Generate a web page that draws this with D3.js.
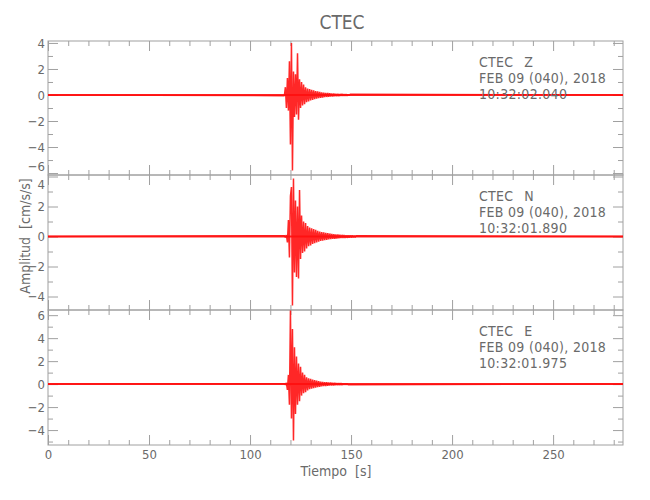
<!DOCTYPE html>
<html><head><meta charset="utf-8">
<script src="https://cdn.jsdelivr.net/npm/d3@7"></script>
<style>
body{margin:0;background:#fff;}
text{font-family:"DejaVu Sans Condensed","Liberation Sans Narrow",sans-serif;fill:#6a6a6a;}
</style></head>
<body><svg id="c" width="650" height="500"></svg>
<script>
// ---- data ----
const title = "CTEC";
const xLabel = "Tiempo  [s]";
const yLabel = "Amplitud  [cm/s/s]";
const xDomain = [0, 284.6];
const xMajorTicks = [0, 50, 100, 150, 200, 250];
const channels = ["Z", "N", "E"];
const station = "CTEC";
const dateLabel = "FEB 09 (040), 2018";
const startTimes = ["10:32:02.040", "10:32:01.890", "10:32:01.975"];
const yDomains = [[-6.15, 4.15], [-4.9, 4.1], [-5.3, 6.45]];
const yMajorTicks = [[-6, -4, -2, 0, 2, 4], [-4, -2, 0, 2, 4], [-4, -2, 0, 2, 4, 6]];
const burstStart = 117.0;   // s, first sample of the digitised burst
const sampleStep = 0.5;     // s
const zValues = [-0.05, 0.6, -1.0, 1.3, -1.2, 2.6, -3.8, 4.0, -5.8, 1.8, -1.7, 1.6, -1.5, 3.2, -1.9, 1.2,
  -1.0, 1.0, -0.8, 0.8, -0.7, 0.6, -0.55, 0.5, -0.5, 0.45, -0.42, 0.4, -0.38, 0.35, -0.32, 0.3,
  -0.28, 0.27, -0.25, 0.24, -0.22, 0.2, -0.2, 0.18, -0.17, 0.16, -0.15, 0.15, -0.14, 0.13, -0.12,
  0.12, -0.11, 0.11, -0.1, 0.1, -0.1, 0.09, -0.09, 0.08, -0.08, 0.08, -0.07, 0.07, -0.06, 0.06,
  -0.06, 0.05, -0.05, 0.05];
const nValues = [0.05, -0.06, 0.1, -0.4, 1.1, -1.4, 2.7, 3.3, -4.6, 3.87, -2.4, 2.4, -2.7, 2.0, -2.8, 3.1,
  -1.5, 1.4, -1.1, 1.0, -1.0, 0.9, -0.8, 0.7, -0.65, 0.6, -0.6, 0.55, -0.5, 0.5, -0.45, 0.45, -0.4,
  0.38, -0.35, 0.33, -0.3, 0.3, -0.28, 0.27, -0.25, 0.25, -0.22, 0.22, -0.2, 0.2, -0.18, 0.17, -0.16,
  0.16, -0.15, 0.14, -0.14, 0.13, -0.12, 0.12, -0.11, 0.11, -0.1, 0.1, -0.1, 0.09, -0.09, 0.08, -0.08,
  0.08, -0.07, 0.07, -0.06, 0.06, -0.05, 0.05];
const eValues = [0.04, -0.05, 0.1, -0.5, 0.8, -1.8, 6.4, -3.0, 4.8, -4.9, 3.2, -2.6, 2.4, -1.8, 1.8, -1.5,
  1.5, -1.0, 1.0, -0.8, 0.8, -0.7, 0.6, -0.55, 0.5, -0.45, 0.45, -0.4, 0.4, -0.35, 0.35, -0.3, 0.3,
  -0.27, 0.26, -0.24, 0.22, -0.2, 0.2, -0.18, 0.17, -0.16, 0.16, -0.15, 0.14, -0.13, 0.13, -0.12,
  0.12, -0.11, 0.11, -0.1, 0.1, -0.1, 0.09, -0.09, 0.08, -0.08, 0.07, -0.07, 0.06, -0.06, 0.05, -0.05];
const seriesValues = [zValues, nValues, eValues];

// ---- layout ----
const svg = d3.select("#c");
const left = 48, right = 623;
const panelTops = [41, 175, 310], panelBottoms = [175, 310, 445];
const axisColor = "#a0a0a0";
const x = d3.scaleLinear().domain(xDomain).range([left, right]);
const xMinor = d3.range(0, 285, 10).filter(v => v % 50 !== 0);
const fontStack = '"DejaVu Sans Condensed",sans-serif';

svg.append("text").attr("x", 342).attr("y", 29).attr("text-anchor", "middle")
  .style("font-size", "19px").text(title);

function styleAxis(g) {
  g.select(".domain").remove();
  g.selectAll("line").attr("stroke", axisColor);
}

channels.forEach((ch, i) => {
  const top = panelTops[i], bottom = panelBottoms[i];
  const y = d3.scaleLinear().domain(yDomains[i]).range([bottom, top]);
  const [d0, d1] = yDomains[i];
  const yMinor = d3.range(Math.ceil(d0), Math.floor(d1) + 1).filter(v => v % 2 !== 0);
  const g = svg.append("g");

  // x ticks top & bottom
  g.append("g").attr("transform", `translate(0,${top})`)
    .call(d3.axisTop(x).tickValues(xMajorTicks).tickSize(-10).tickFormat("")).call(styleAxis);
  g.append("g").attr("transform", `translate(0,${top})`)
    .call(d3.axisTop(x).tickValues(xMinor).tickSize(-5).tickFormat("")).call(styleAxis);
  g.append("g").attr("transform", `translate(0,${bottom})`)
    .call(d3.axisBottom(x).tickValues(xMajorTicks).tickSize(-10).tickFormat("")).call(styleAxis);
  g.append("g").attr("transform", `translate(0,${bottom})`)
    .call(d3.axisBottom(x).tickValues(xMinor).tickSize(-5).tickFormat("")).call(styleAxis);
  // y ticks left & right
  g.append("g").attr("transform", `translate(${left},0)`)
    .call(d3.axisLeft(y).tickValues(yMajorTicks[i]).tickSize(-10).tickFormat("")).call(styleAxis);
  g.append("g").attr("transform", `translate(${left},0)`)
    .call(d3.axisLeft(y).tickValues(yMinor).tickSize(-5).tickFormat("")).call(styleAxis);
  g.append("g").attr("transform", `translate(${right},0)`)
    .call(d3.axisRight(y).tickValues(yMajorTicks[i]).tickSize(-10).tickFormat("")).call(styleAxis);
  g.append("g").attr("transform", `translate(${right},0)`)
    .call(d3.axisRight(y).tickValues(yMinor).tickSize(-5).tickFormat("")).call(styleAxis);
  // y labels
  const yl = g.append("g").attr("transform", `translate(${left - 3},0)`)
    .call(d3.axisLeft(y).tickValues(yMajorTicks[i]).tickSize(0).tickPadding(0));
  yl.select(".domain").remove();
  yl.selectAll("text").style("font-size", "13px").attr("fill", "#6a6a6a")
    .style("font-family", fontStack);
  // labels sitting on a shared panel border are nudged apart so they stay legible
  yl.selectAll(".tick").filter(d => y(d) - top < 4 && i > 0)
    .select("text").attr("dy", "0.95em");
  yl.selectAll(".tick").filter(d => bottom - y(d) < 4 && i < 2)
    .select("text").attr("dy", "-0.2em");

  // frame
  g.append("rect").attr("x", left).attr("y", top).attr("width", right - left).attr("height", bottom - top)
    .attr("fill", "none").attr("stroke", axisColor);

  // signal
  const vals = seriesValues[i];
  const pts = [[xDomain[0], 0]].concat(vals.map((v, k) => [burstStart + k * sampleStep, v]))
    .concat([[xDomain[1], 0]]);
  const line = d3.line().x(d => x(d[0])).y(d => y(d[1]));
  g.append("path").attr("d", line([[xDomain[0], 0], [xDomain[1], 0]]))
    .attr("fill", "none").attr("stroke", "#ff0000").attr("stroke-width", 2).attr("opacity", 0.85);
  g.append("path").attr("d", line(pts)).attr("fill", "none").attr("stroke", "#ff1010")
    .attr("stroke-width", 1.5).attr("stroke-linejoin", "bevel").attr("opacity", 0.9);

  // annotation
  const ann = g.append("text").attr("x", 479).attr("y", top + 26)
    .style("font-size", "14px").style("letter-spacing", "0.3px");
  ann.append("tspan").attr("x", 479).attr("dy", 0).text(station + "\u2002 " + ch);
  ann.append("tspan").attr("x", 479).attr("dy", 16).text(dateLabel);
  ann.append("tspan").attr("x", 479).attr("dy", 16).text(startTimes[i]);
});

// x tick labels
const xl = svg.append("g").attr("transform", `translate(0,${panelBottoms[2] + 2})`)
  .call(d3.axisBottom(x).tickValues(xMajorTicks).tickSize(0).tickPadding(3));
xl.select(".domain").remove();
xl.selectAll("text").style("font-size", "13px").attr("fill", "#6a6a6a")
  .style("font-family", fontStack);

svg.append("text").attr("x", 336).attr("y", 476).attr("text-anchor", "middle")
  .style("font-size", "14px").style("white-space", "pre").text(xLabel);
svg.append("text").attr("transform", "translate(30,236) rotate(-90)").attr("text-anchor", "middle")
  .style("font-size", "14px").style("white-space", "pre").text(yLabel);
</script></body></html>
